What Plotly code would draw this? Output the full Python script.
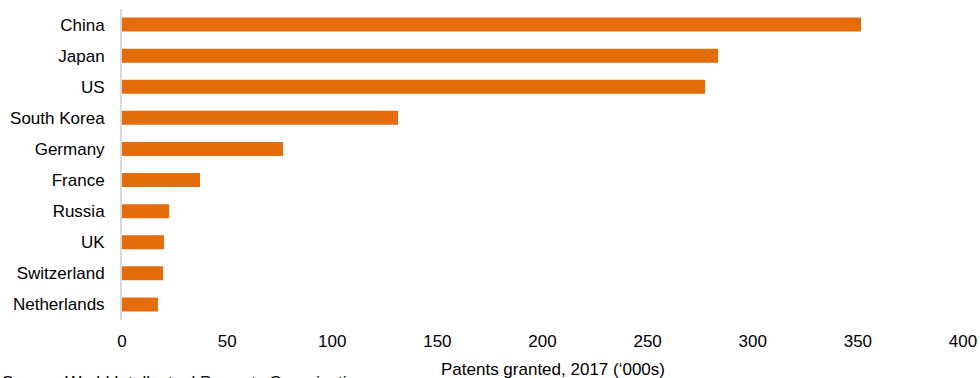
import plotly.graph_objects as go

countries = ["China", "Japan", "US", "South Korea", "Germany", "France",
             "Russia", "UK", "Switzerland", "Netherlands"]
patents = [351.5, 283.5, 277.3, 131.3, 76.6, 37.1, 22.4, 20.0, 19.5, 17.1]
x_ticks = [0, 50, 100, 150, 200, 250, 300, 350, 400]

fig = go.Figure(go.Bar(
    x=patents, y=countries, orientation="h",
    marker=dict(color="#E46C0A", line=dict(width=0)),
    width=0.45,
))

font = "Liberation Sans, Arial, sans-serif"
fig.update_layout(
    width=980, height=378,
    margin=dict(l=122, r=17, t=9, b=58, autoexpand=False),
    paper_bgcolor="white", plot_bgcolor="white",
    showlegend=False,
    font=dict(family=font, size=17, color="#000000"),
    xaxis=dict(range=[0, 400], tickvals=x_ticks, showgrid=False, zeroline=False,
               showline=False, ticks="outside", ticklen=6, automargin=False,
               tickcolor="rgba(0,0,0,0)", tickfont=dict(size=17)),
    yaxis=dict(categoryorder="array", categoryarray=countries[::-1],
               autorange=True, showgrid=False, zeroline=False, automargin=False,
               showline=True, linecolor="#d9d9d9", linewidth=2,
               ticks="outside", ticklen=12, tickcolor="rgba(0,0,0,0)",
               tickfont=dict(size=17)),
    annotations=[
        dict(text="Patents granted, 2017 (\u2018000s)", x=0.512, xref="paper",
             y=-0.123, yref="paper", yanchor="top", showarrow=False,
             font=dict(size=17), xanchor="center"),
        dict(text="Source: World Intellectual Property Organization", x=-122 / 841,
             xref="paper", xanchor="left", y=-0.164, yref="paper",
             yanchor="top", showarrow=False, font=dict(size=17)),
    ],
)
fig.write_html("out.html")
